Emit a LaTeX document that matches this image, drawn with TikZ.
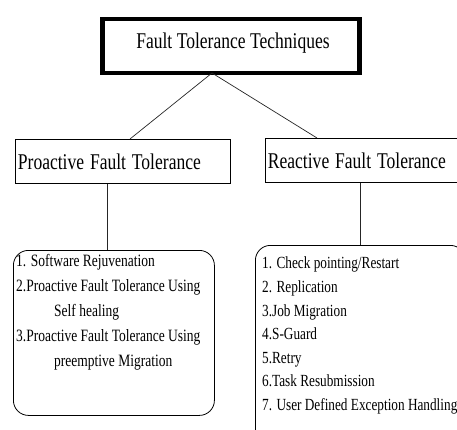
\documentclass[tikz,border=0pt]{standalone}
\usepackage{graphicx}
\usepackage{fontspec}
\setmainfont{Liberation Serif}
\newcommand\nrw[1]{\scalebox{0.78}[1]{#1}}
\begin{document}
\begin{tikzpicture}[x=1pt,y=-1pt,
  headbox/.style={draw=black,line width=0.8pt,anchor=north west,inner xsep=2.5pt,inner ysep=0pt,
    align=left,font=\fontsize{22.5}{26}\selectfont},
  listbox/.style={draw=black,line width=0.8pt,rounded corners=15pt,anchor=north west,inner sep=0pt},
  listtext/.style={anchor=north west,inner sep=0pt,align=left},
  conn/.style={draw=black!85,line width=0.7pt}]
\useasboundingbox (0,0) rectangle (457,430);
\begin{scope}
\clip (0,0) rectangle (457,430);
% top box
\node[draw=black,line width=4.5pt,anchor=north west,minimum width=257pt,minimum height=54pt,inner sep=0pt]
  (top) at (100,17) {};
\node[font=\fontsize{22.5}{26}\selectfont,inner sep=0pt] (toptext) at (233,43) {\nrw{Fault Tolerance Techniques}};
% second level
\node[headbox,minimum width=215pt,minimum height=44pt,text width=210pt] (pro) at (15,139)
  {\nrw{Proactive Fault Tolerance}};
\node[headbox,minimum width=200pt,minimum height=44pt,text width=195pt] (rea) at (265,138)
  {\nrw{Reactive Fault Tolerance}};
\coordinate (topb) at (212,73);
\coordinate (proT) at (130,139);
\coordinate (reaT) at (317,138);
\draw[conn] (topb) -- (proT);
\draw[conn] (topb) -- (reaT);
% list boxes
\node[listbox,minimum width=201pt,minimum height=165pt] (prolist) at (13,250) {};
\node[listbox,minimum width=210pt,minimum height=200pt] (realist) at (255,245) {};
\draw[conn] (pro.south -| 107,0) -- (prolist.north -| 107,0);
\draw[conn] (rea.south -| 360,0) -- (realist.north -| 360,0);
% list texts
\node[listtext,font=\fontsize{17.3}{25}\selectfont] (protext) at (16,254)
  {\nrw{1. Software Rejuvenation}\\
   \nrw{2.Proactive Fault Tolerance Using}\\
   \hspace*{38pt}\nrw{Self healing}\\
   \nrw{3.Proactive Fault Tolerance Using}\\
   \hspace*{38pt}\nrw{preemptive Migration}};
\node[listtext,font=\fontsize{17}{23.6}\selectfont] (reatext) at (262,257)
  {\nrw{1. Check pointing/Restart}\\
   \nrw{2. Replication}\\
   \nrw{3.Job Migration}\\
   \nrw{4.S-Guard}\\
   \nrw{5.Retry}\\
   \nrw{6.Task Resubmission}\\
   \nrw{7. User Defined Exception Handling}};
\end{scope}
\end{tikzpicture}
\end{document}
